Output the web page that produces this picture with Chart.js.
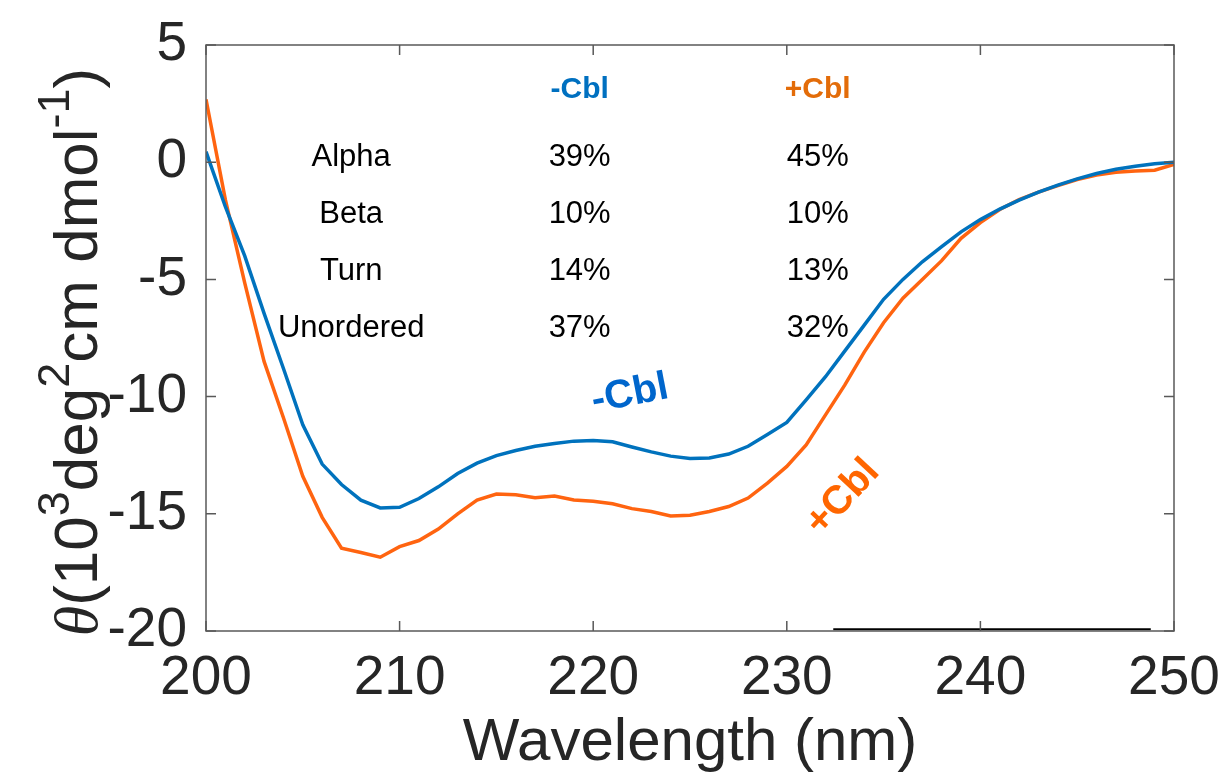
<!DOCTYPE html>
<html>
<head>
<meta charset="utf-8">
<script src="https://cdn.jsdelivr.net/npm/chart.js@4.4.0/dist/chart.umd.min.js"></script>
<style>
  html, body { margin: 0; padding: 0; background: #fff; }
  #wrap { width: 1228px; height: 781px; }
</style>
</head>
<body>
<div id="wrap"><canvas id="cd" width="1228" height="781"></canvas></div>
<script>
// CD spectra, wavelength in nm
const wavelength = [200, 201, 202, 203, 204, 205, 206, 207, 208, 209,
  210, 211, 212, 213, 214, 215, 216, 217, 218, 219,
  220, 221, 222, 223, 224, 225, 226, 227, 228, 229,
  230, 231, 232, 233, 234, 235, 236, 237, 238, 239,
  240, 241, 242, 243, 244, 245, 246, 247, 248, 249, 250];

// -Cbl (blue)
const minusCbl = [0.45, -1.9, -4.0, -6.45, -8.8, -11.2, -12.88, -13.75, -14.42, -14.75,
  -14.72, -14.35, -13.85, -13.28, -12.84, -12.52, -12.3, -12.12, -12.0, -11.9,
  -11.87, -11.93, -12.15, -12.36, -12.54, -12.64, -12.62, -12.45, -12.12, -11.62,
  -11.1, -10.14, -9.15, -8.05, -6.95, -5.85, -5.0, -4.25, -3.6, -2.97,
  -2.45, -2.0, -1.62, -1.28, -0.98, -0.71, -0.48, -0.3, -0.17, -0.07, 0.0];

// +Cbl (orange)
const plusCbl = [2.68, -1.6, -5.15, -8.5, -10.9, -13.4, -15.15, -16.47, -16.65, -16.85,
  -16.4, -16.14, -15.65, -15.0, -14.41, -14.16, -14.19, -14.31, -14.24, -14.41,
  -14.46, -14.57, -14.78, -14.9, -15.09, -15.06, -14.9, -14.69, -14.33, -13.69,
  -12.98, -12.06, -10.78, -9.5, -8.1, -6.85, -5.8, -5.0, -4.2, -3.25,
  -2.58, -2.02, -1.6, -1.28, -1.0, -0.74, -0.55, -0.43, -0.38, -0.34, -0.1];

// stray baseline segment at the bottom of the frame
const baselineX = [232.4, 248.8];
const baselineY = [-19.93, -19.93];

const xTicks = [200, 210, 220, 230, 240, 250];
const yTicks = [-20, -15, -10, -5, 0, 5];

// secondary structure table
const structures = ['Alpha', 'Beta', 'Turn', 'Unordered'];
const fracMinus = [39, 10, 14, 37];
const fracPlus = [45, 10, 13, 32];

const BLUE = '#0072BD';
const ORANGE = '#FF6410';
const INK = '#262626';
const SANS = '"Liberation Sans", Arial, sans-serif';

const toPoints = (xs, ys) => xs.map((x, i) => ({ x: x, y: ys[i] }));

const decor = {
  id: 'decor',
  afterDraw(chart) {
    const { ctx, chartArea: a, scales } = chart;
    const sx = scales.x, sy = scales.y;

    // box and inward ticks (matlab style)
    ctx.save();
    ctx.strokeStyle = '#595959';
    ctx.lineWidth = 1.5;
    ctx.strokeRect(a.left, a.top, a.right - a.left, a.bottom - a.top);
    ctx.beginPath();
    xTicks.forEach(v => {
      const px = sx.getPixelForValue(v);
      ctx.moveTo(px, a.bottom); ctx.lineTo(px, a.bottom - 10);
      ctx.moveTo(px, a.top); ctx.lineTo(px, a.top + 10);
    });
    yTicks.forEach(v => {
      const py = sy.getPixelForValue(v);
      ctx.moveTo(a.left, py); ctx.lineTo(a.left + 10, py);
      ctx.moveTo(a.right, py); ctx.lineTo(a.right - 10, py);
    });
    ctx.stroke();
    ctx.restore();

    // x title
    ctx.save();
    ctx.fillStyle = INK;
    ctx.font = '60px ' + SANS;
    ctx.textAlign = 'center';
    ctx.textBaseline = 'alphabetic';
    ctx.fillText('Wavelength (nm)', (a.left + a.right) / 2, 760);
    ctx.restore();

    // y title with superscripts
    const main = 62, sup = 45, raise = 28;
    const parts = [
      { t: '\u03B8', f: 'italic ' + main + 'px "Liberation Serif", serif', up: 0 },
      { t: '(10', f: main + 'px ' + SANS, up: 0 },
      { t: '3', f: sup + 'px ' + SANS, up: raise },
      { t: 'deg', f: main + 'px ' + SANS, up: 0 },
      { t: '2', f: sup + 'px ' + SANS, up: raise },
      { t: 'cm dmol', f: main + 'px ' + SANS, up: 0 },
      { t: '-1', f: sup + 'px ' + SANS, up: raise },
      { t: ')', f: main + 'px ' + SANS, up: 0 }
    ];
    ctx.save();
    ctx.fillStyle = INK;
    ctx.translate(97, 352);
    ctx.rotate(-Math.PI / 2);
    ctx.textBaseline = 'alphabetic';
    ctx.textAlign = 'left';
    let total = 0;
    parts.forEach(p => { ctx.font = p.f; p.w = ctx.measureText(p.t).width; total += p.w; });
    let cx = -total / 2;
    parts.forEach(p => {
      ctx.font = p.f;
      ctx.fillText(p.t, cx, -p.up);
      cx += p.w;
    });
    ctx.restore();

    // table of secondary structure
    ctx.save();
    ctx.textAlign = 'center';
    ctx.textBaseline = 'middle';
    const colLabel = sx.getPixelForValue(207.5);
    const colMinus = sx.getPixelForValue(219.3);
    const colPlus = sx.getPixelForValue(231.6);
    ctx.font = 'bold 30px ' + SANS;
    ctx.fillStyle = '#0070C0';
    ctx.fillText('-Cbl', colMinus, sy.getPixelForValue(3.1));
    ctx.fillStyle = '#E36C09';
    ctx.fillText('+Cbl', colPlus, sy.getPixelForValue(3.1));
    ctx.font = '31px ' + SANS;
    ctx.fillStyle = '#000';
    const rowY = [0.2, -2.23, -4.67, -7.1];
    structures.forEach((s, i) => {
      const py = sy.getPixelForValue(rowY[i]);
      ctx.fillText(s, colLabel, py);
      ctx.fillText(fracMinus[i] + '%', colMinus, py);
      ctx.fillText(fracPlus[i] + '%', colPlus, py);
    });
    ctx.restore();

    // curve labels
    const tag = (text, color, x, y, deg) => {
      ctx.save();
      ctx.translate(sx.getPixelForValue(x), sy.getPixelForValue(y));
      ctx.rotate(deg * Math.PI / 180);
      ctx.font = 'bold 40px ' + SANS;
      ctx.fillStyle = color;
      ctx.textAlign = 'center';
      ctx.textBaseline = 'middle';
      ctx.fillText(text, 0, 0);
      ctx.restore();
    };
    tag('-Cbl', '#0066CC', 221.9, -9.9, -11);
    tag('+Cbl', '#FF6600', 232.9, -14.3, -47);
  }
};

const ctx = document.getElementById('cd').getContext('2d');
new Chart(ctx, {
  type: 'line',
  data: {
    datasets: [
      { label: '-Cbl', data: toPoints(wavelength, minusCbl), borderColor: BLUE, borderWidth: 3.5, pointRadius: 0, tension: 0 },
      { label: '+Cbl', data: toPoints(wavelength, plusCbl), borderColor: ORANGE, borderWidth: 3.5, pointRadius: 0, tension: 0 },
      { label: 'base', data: toPoints(baselineX, baselineY), borderColor: '#000', borderWidth: 2, pointRadius: 0 }
    ]
  },
  options: {
    responsive: false,
    animation: false,
    layout: { padding: { top: 45, right: 54, left: 0, bottom: 0 } },
    plugins: { legend: { display: false }, tooltip: { enabled: false } },
    scales: {
      x: {
        type: 'linear',
        min: 200, max: 250,
        afterFit: (s) => { s.height = 150; s.paddingLeft = 0; s.paddingRight = 0; },
        afterBuildTicks: (s) => { s.ticks = xTicks.map(v => ({ value: v })); },
        grid: { display: false, drawTicks: false },
        border: { display: false },
        ticks: { color: INK, padding: 15, maxRotation: 0, font: { size: 55, family: SANS } }
      },
      y: {
        min: -20, max: 5,
        afterFit: (s) => { s.width = 206; s.paddingTop = 0; s.paddingBottom = 0; },
        afterBuildTicks: (s) => { s.ticks = yTicks.map(v => ({ value: v })); },
        grid: { display: false, drawTicks: false },
        border: { display: false },
        ticks: { color: INK, padding: 19, font: { size: 55, family: SANS } }
      }
    }
  },
  plugins: [decor]
});
</script>
</body>
</html>
